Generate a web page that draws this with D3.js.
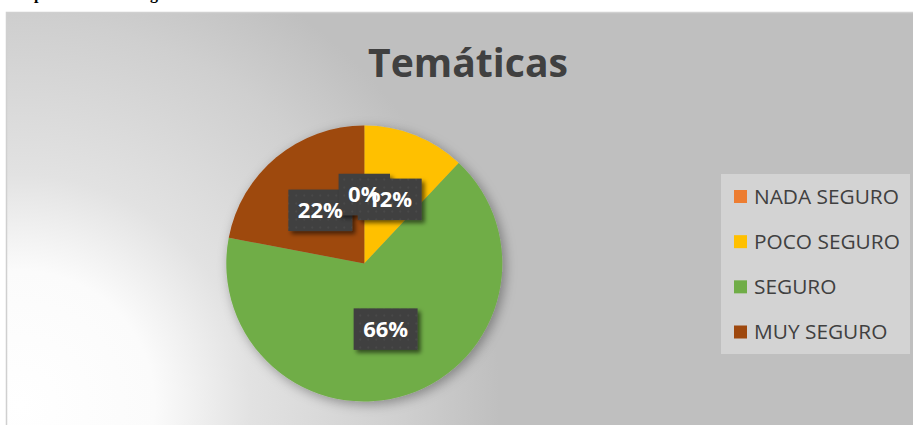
<!DOCTYPE html>
<html><head><meta charset="utf-8">
<script src="https://cdn.jsdelivr.net/npm/d3@7"></script>
<style>html,body{margin:0;padding:0;background:#fff;overflow:hidden}</style>
</head><body><svg id="c" width="913" height="425"></svg>
<script>
const categories = ["NADA SEGURO", "POCO SEGURO", "SEGURO", "MUY SEGURO"];
const values = [0, 12, 66, 22];
const valueLabels = ["0%", "12%", "66%", "22%"];
const colors = ["#ED7D31", "#FFC000", "#70AD47", "#9E480E"];
const titleText = "Temáticas";

const svg = d3.select("#c");
const FONT = "'Open Sans', 'Noto Sans', sans-serif";
const defs = svg.append("defs");

function fit(text, target, weight) {
  const t = svg.append("text").attr("font-family", FONT).attr("font-weight", weight)
    .attr("font-size", 100).text(text);
  const w = t.node().getComputedTextLength();
  t.remove();
  return 100 * target / w;
}

// background gradient
const rg = defs.append("radialGradient").attr("id", "bg")
  .attr("gradientUnits", "userSpaceOnUse").attr("cx", 20).attr("cy", 405).attr("r", 480);
[[0, "#ffffff"], [0.28, "#fbfbfb"], [0.48, "#e2e2e2"], [0.8, "#cfcfcf"], [1, "#bfbfbf"]]
  .forEach(([o, c]) => rg.append("stop").attr("offset", o).attr("stop-color", c));

// shadows
const fp = defs.append("filter").attr("id", "pieShadow").attr("x", "-20%").attr("y", "-20%").attr("width", "140%").attr("height", "140%");
fp.append("feDropShadow").attr("dx", 3).attr("dy", 3).attr("stdDeviation", 6)
  .attr("flood-color", "#000").attr("flood-opacity", 0.35);
const fb = defs.append("filter").attr("id", "boxShadow").attr("x", "-30%").attr("y", "-30%").attr("width", "160%").attr("height", "160%");
fb.append("feDropShadow").attr("dx", 3).attr("dy", 3).attr("stdDeviation", 2)
  .attr("flood-color", "#000").attr("flood-opacity", 0.55);

// dotted texture
const pat = defs.append("pattern").attr("id", "dots").attr("patternUnits", "userSpaceOnUse")
  .attr("width", 8).attr("height", 8);
pat.append("rect").attr("width", 8).attr("height", 8).attr("fill", "#3f3f3f");
pat.append("circle").attr("cx", 4).attr("cy", 4).attr("r", 1).attr("fill", "#4e4e4e");

// caption remnants at the top (cut off)
svg.append("text").attr("x", 34).attr("y", -1).attr("font-family", "'Liberation Serif', serif")
  .attr("font-weight", "bold").attr("font-size", 16).attr("fill", "#000").text("p");
svg.append("text").attr("x", 150).attr("y", -1).attr("font-family", "'Liberation Serif', serif")
  .attr("font-weight", "bold").attr("font-size", 16).attr("fill", "#000").text("g");

// chart area
svg.append("rect").attr("x", 6.5).attr("y", 12.5).attr("width", 920).attr("height", 430)
  .attr("fill", "url(#bg)").attr("stroke", "#d0d0d0").attr("stroke-width", 1.5);

// title
const titleSize = fit(titleText, 200, "bold");
svg.append("text").attr("x", 468).attr("y", 76.5).attr("text-anchor", "middle")
  .attr("font-family", FONT).attr("font-weight", "bold").attr("font-size", titleSize)
  .attr("fill", "#404040").text(titleText);

// pie
const cx = 364.3, cy = 263.5, R = 138;
const pie = d3.pie().sort(null).value(d => d)(values);
const arc = d3.arc().innerRadius(0).outerRadius(R);
const g = svg.append("g").attr("transform", `translate(${cx},${cy})`);
g.append("g").attr("filter", "url(#pieShadow)")
  .selectAll("path").data(pie).join("path")
  .attr("d", arc).attr("fill", (d, i) => colors[i]);

// data labels
const labSize = fit("22%", 45, "bold");
const capH = labSize * 0.714;
const order = [3, 0, 1, 2];
const labData = order.map(i => {
  const [x, y] = arc.centroid(pie[i]);
  return { i, x, y, text: valueLabels[i] };
});
const tmp = svg.append("text").attr("font-family", FONT).attr("font-weight", "bold").attr("font-size", labSize);
labData.forEach(d => { tmp.text(d.text); d.w = tmp.node().getComputedTextLength(); });
tmp.remove();
const padX = 9.5, boxH = 41.5;
g.selectAll("rect.lab").data(labData).join("rect").attr("class", "lab")
  .attr("x", d => d.x - d.w / 2 - padX).attr("y", d => d.y - boxH / 2)
  .attr("width", d => d.w + 2 * padX).attr("height", boxH)
  .attr("fill", "url(#dots)").attr("filter", "url(#boxShadow)");
g.selectAll("text.lab").data(labData).join("text").attr("class", "lab")
  .attr("x", d => d.x).attr("y", d => d.y + capH / 2)
  .attr("text-anchor", "middle").attr("font-family", FONT).attr("font-weight", "bold")
  .attr("font-size", labSize).attr("fill", "#ffffff").text(d => d.text);

// legend
svg.append("rect").attr("x", 721).attr("y", 174).attr("width", 189).attr("height", 180)
  .attr("fill", "#d3d3d3");
const ly = d3.scalePoint().domain(categories).range([196.5, 332]);
const legSize = fit("NADA SEGURO", 145, "normal");
const legCap = legSize * 0.714;
const lg = svg.append("g").selectAll("g").data(categories).join("g")
  .attr("transform", d => `translate(0,${ly(d)})`);
lg.append("rect").attr("x", 734).attr("y", -6.5).attr("width", 13).attr("height", 13)
  .attr("fill", (d, i) => colors[i]);
lg.append("text").attr("x", 754).attr("y", legCap / 2)
  .attr("font-family", FONT).attr("font-size", legSize).attr("fill", "#404040").text(d => d);
</script></body></html>
